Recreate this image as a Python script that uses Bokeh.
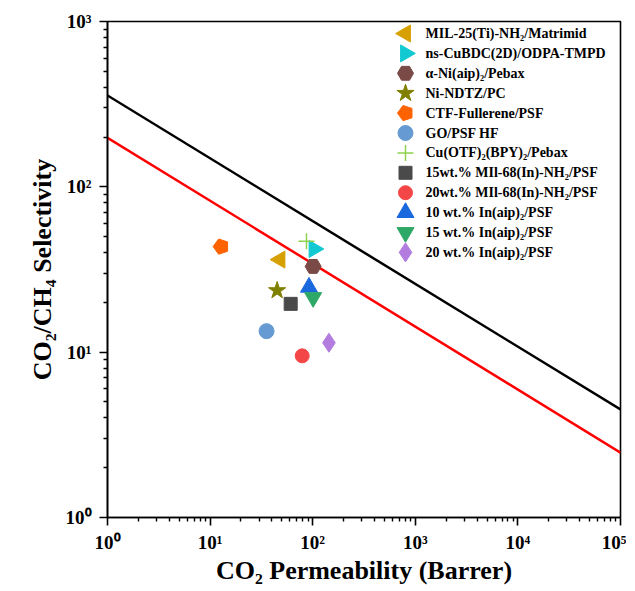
import math
from bokeh.plotting import figure
from bokeh.models import FixedTicker, Range1d, LinearScale
from bokeh.core.properties import value
from bokeh.embed import file_html
from bokeh.resources import INLINE

# ---- data ----
labels = [
    "MIL-25(Ti)-NH₂/Matrimid",
    "ns-CuBDC(2D)/ODPA-TMPD",
    "α-Ni(aip)₂/Pebax",
    "Ni-NDTZ/PC",
    "CTF-Fullerene/PSF",
    "GO/PSF HF",
    "Cu(OTF)₂(BPY)₂/Pebax",
    "15wt.% MIl-68(In)-NH₂/PSF",
    "20wt.% MIl-68(In)-NH₂/PSF",
    "10 wt.% In(aip)₂/PSF",
    "15 wt.% In(aip)₂/PSF",
    "20 wt.% In(aip)₂/PSF",
]
co2_perm = [48, 103, 101, 45, 12.8, 35.5, 87, 61, 79, 92, 101, 144]
selectivity = [36.3, 42.1, 33.0, 23.6, 43.5, 13.4, 46.8, 19.6, 9.5, 24.7, 21.4, 11.4]

bound2008_x = [1, 1e5]
bound2008_y = [357, 4.5]
bound1991_x = [1, 1e5]
bound1991_y = [198, 2.47]

tick_vals = [1, 10, 100, 1000, 10000, 100000]
x_tick_labels = ["10⁰", "10¹", "10²", "10³", "10⁴", "10⁵"]
y_tick_vals = [1, 10, 100, 1000]
y_tick_labels = ["10⁰", "10¹", "10²", "10³"]

# ---- styles ----
styles = [
    dict(marker="triangle", color="#d6a000", size=17, angle=math.pi / 2),
    dict(marker="triangle", color="#12c9d1", size=17, angle=-math.pi / 2),
    dict(marker="hex", color="#7a4a47", size=16, angle=0),
    dict(marker="star", color="#7f7f00", size=18, angle=0),
    dict(marker="ngon", color="#ff6200", size=8, angle=math.pi / 2),
    dict(marker="circle", color="#659bd2", size=15, angle=0),
    dict(marker="cross", color="#8fd14f", size=16, angle=0),
    dict(marker="square", color="#4a4a4a", size=13, angle=0),
    dict(marker="circle", color="#f44646", size=14, angle=0),
    dict(marker="triangle", color="#1a68de", size=17, angle=0),
    dict(marker="inverted_triangle", color="#2ea866", size=17, angle=0),
    dict(marker="diamond", color="#b27ddf", size=19, angle=0),
]

FW, FH = 513, 496
p = figure(frame_width=FW, frame_height=FH, x_axis_type="log", y_axis_type="log",
           x_range=(1, 1e5), y_range=(1, 1e3),
           output_backend="svg", toolbar_location=None,
           min_border_left=107, min_border_right=6,
           min_border_top=21, min_border_bottom=40)

# linear pixel-like ranges used only for placing the legend
p.extra_x_ranges = {"leg": Range1d(0, FW)}
p.extra_y_ranges = {"leg": Range1d(0, FH)}
p.extra_x_scales = {"leg": LinearScale()}
p.extra_y_scales = {"leg": LinearScale()}

p.xgrid.grid_line_color = None
p.ygrid.grid_line_color = None
p.outline_line_color = "black"
p.outline_line_width = 1.6

p.line(bound2008_x, bound2008_y, line_color="black", line_width=2.5)
p.line(bound1991_x, bound1991_y, line_color="red", line_width=2.5)


def draw(xs, ys, st, **kw):
    if st["marker"] == "ngon":
        return p.ngon(x=xs, y=ys, radius=st["size"], radius_units="screen", n=5,
                      fill_color=st["color"], line_color=st["color"], angle=st["angle"], **kw)
    if st["marker"] == "cross":
        return p.scatter(x=xs, y=ys, marker="cross", size=st["size"],
                         line_color=st["color"], line_width=1.5, **kw)
    return p.scatter(x=xs, y=ys, marker=st["marker"], size=st["size"],
                     fill_color=st["color"], line_color=st["color"], angle=st["angle"], **kw)


for i in range(len(labels)):
    draw([co2_perm[i]], [selectivity[i]], styles[i])

# legend (manual, in frame pixel coordinates)
leg_marker_x = 298
leg_text_x = 318
leg_top = 484
leg_step = 19.9
for i, lab in enumerate(labels):
    yy = leg_top - i * leg_step
    draw([leg_marker_x], [yy], styles[i], x_range_name="leg", y_range_name="leg")
    p.text(x=[leg_text_x], y=[yy], text=[lab], text_baseline="middle", text_align="left",
           text_font=value("Liberation Serif"), text_font_style="bold",
           text_font_size="14px", text_color="black",
           x_range_name="leg", y_range_name="leg")

for ax, vals, labs in ((p.xaxis, tick_vals, x_tick_labels), (p.yaxis, y_tick_vals, y_tick_labels)):
    minors = [k * v for v in vals[:-1] for k in range(2, 10)]
    ax.ticker = FixedTicker(ticks=vals, minor_ticks=minors)
    ax.major_label_overrides = {v: l for v, l in zip(vals, labs)}
    ax.axis_line_width = 1.6
    ax.major_tick_line_width = 1.6
    ax.minor_tick_line_width = 1.4
    ax.major_tick_in = 0
    ax.major_tick_out = 8
    ax.minor_tick_in = 0
    ax.minor_tick_out = 4
    ax.major_label_text_font = "Liberation Serif"
    ax.major_label_text_font_style = "bold"
    ax.major_label_text_font_size = "19px"
    ax.major_label_text_color = "black"
    ax.axis_label_text_font = "Liberation Serif"
    ax.axis_label_text_font_style = "bold"
    ax.axis_label_text_font_size = "26px"
    ax.axis_label_text_color = "black"

p.xaxis.axis_label = "CO₂ Permeability (Barrer)"
p.yaxis.axis_label = "CO₂/CH₄ Selectivity"
p.xaxis.major_label_standoff = 6
p.yaxis.major_label_standoff = 8
p.xaxis.axis_label_standoff = 0
p.yaxis.axis_label_standoff = 6

open("out.html", "w").write(file_html(p, INLINE))
